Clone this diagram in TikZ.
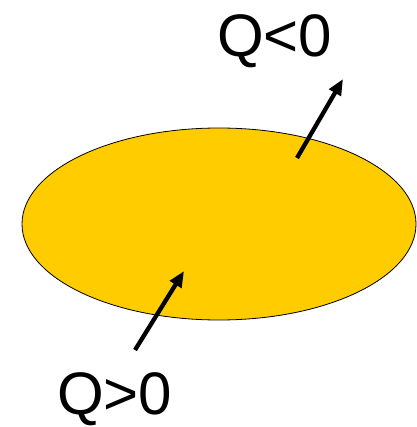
\documentclass[tikz,border=0pt]{standalone}
\usepackage{fontspec}
\setmainfont{Liberation Sans}
\usetikzlibrary{arrows.meta}
\begin{document}
\begin{tikzpicture}[x=1pt,y=-1pt,
  lbl/.style={font=\fontsize{60}{62}\selectfont, inner sep=0pt, anchor=base west},
  flux/.style={line width=4.3pt, -{Triangle[length=16pt,width=13pt]}}]
\useasboundingbox (0,0) rectangle (416,427);
\draw[fill={rgb,255:red,255;green,204;blue,0}, line width=0.8pt] (219,224) ellipse [x radius=197, y radius=96];
\node[lbl] (qneg) at (217,57) {Q<0};
\node[lbl] (qpos) at (57,414) {Q>0};
\coordinate (a1) at (297,158);
\coordinate (b1) at (343,79);
\coordinate (a2) at (135,350);
\coordinate (b2) at (184,271);
\draw[flux] (a1) -- (b1);
\draw[flux] (a2) -- (b2);
\end{tikzpicture}
\end{document}
